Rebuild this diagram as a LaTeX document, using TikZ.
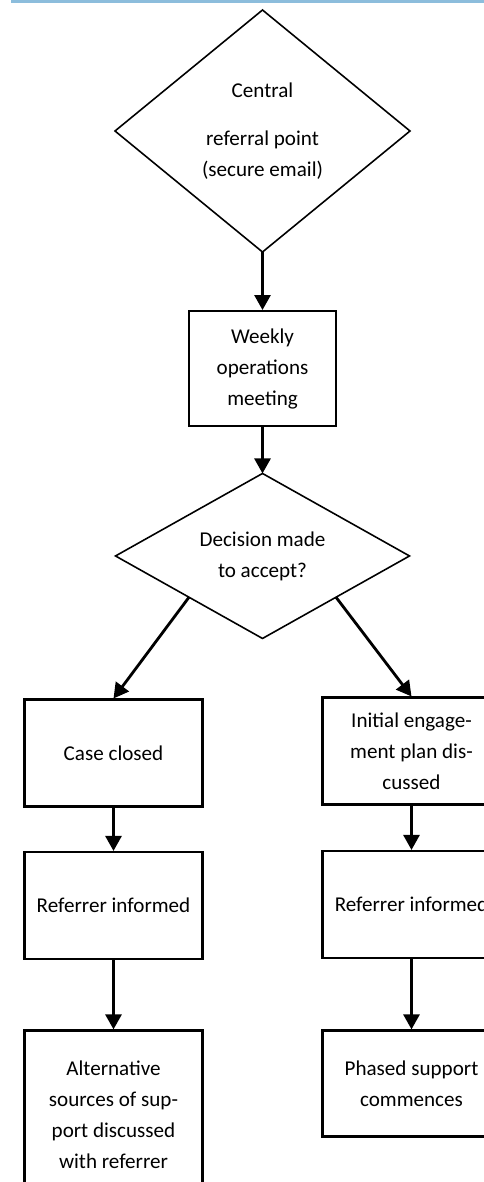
\documentclass[tikz,border=0pt]{standalone}
\usepackage{fontspec}
\setmainfont{Carlito}
\usetikzlibrary{arrows.meta,shapes.geometric,positioning,calc}
\definecolor{rulebar}{HTML}{8CBDDC}

\begin{document}
\begin{tikzpicture}[
    node distance=1cm,
    font=\fontsize{12}{17.6}\selectfont,
    box/.style={draw, line width=1.4pt, rectangle, minimum width=3.56cm, minimum height=2.14cm, align=center, inner sep=2pt},
    decision/.style={draw, line width=0.9pt, diamond, aspect=1.8, inner sep=0pt, outer sep=0pt, align=center},
    arrow/.style={-{Triangle[width=0.32cm,length=0.3cm]}, line width=1.6pt},
]
    \useasboundingbox (0,0) rectangle (9.68,-23.64);
    \clip (0,0) rectangle (9.68,-23.64);

    % top rule
    \fill [rulebar] (0.22,0) rectangle (9.68,-0.05);

    % Referral
    \node [decision, aspect=1.2, minimum width=5.9cm, minimum height=4.84cm] (central) at (5.25,-2.62) {Central\\[0.34cm]referral point\\(secure email)};
    \node [box, minimum width=2.94cm, minimum height=2.3cm, below=1.16cm of central.south] (weekly) {Weekly\\operations\\meeting};
    \node [decision, minimum width=5.88cm, minimum height=3.3cm, below=0.92cm of weekly] (decide) {Decision made\\to accept?};

    % No branch
    \node [box, below=1.2cm of decide.south, xshift=-2.98cm] (closed) {Case closed};
    \node [box, below=0.86cm of closed] (informL) {Referrer informed};
    \node [box, minimum height=3.36cm, below=1.38cm of informL] (altsupport) {Alternative\\sources of sup-\\port discussed\\with referrer};

    % Yes branch
    \node [box, below=1.16cm of decide.south, xshift=2.98cm] (engage) {Initial engage-\\ment plan dis-\\cussed};
    \node [box, below=0.88cm of engage] (informR) {Referrer informed};
    \node [box, minimum height=2.12cm, below=1.4cm of informR] (phased) {Phased support\\commences};

    \coordinate (decideL) at ($(decide.west)!0.5!(decide.south)$);
    \coordinate (decideR) at ($(decide.east)!0.5!(decide.south)$);

    % Arrows
    \draw [arrow] (central.south) -- (weekly);
    \draw [arrow] (weekly) -- (decide.north);
    \draw [arrow] (decideL) -- (closed.north);
    \draw [arrow] (decideR) -- (engage.north);
    \draw [arrow] (closed) -- (informL);
    \draw [arrow] (informL) -- (altsupport);
    \draw [arrow] (engage) -- (informR);
    \draw [arrow] (informR) -- (phased);

\end{tikzpicture}
\end{document}
